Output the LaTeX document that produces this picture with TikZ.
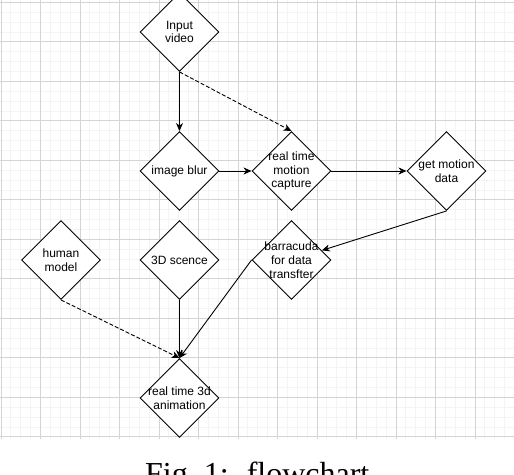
\documentclass[tikz,border=0pt]{standalone}
\usepackage{fontspec}
\setmainfont{Liberation Sans}
\newfontfamily\capfont{Liberation Serif}
\usetikzlibrary{shapes.geometric,arrows.meta}
\definecolor{minorgrid}{HTML}{F4F4F4}
\definecolor{majorgrid}{HTML}{D4D4D4}
\tikzset{
  dia/.style={diamond, draw=black, line width=0.9pt, fill=white, minimum width=79pt, minimum height=79pt, inner sep=0pt},
  lbl/.style={align=center, font=\fontsize{12}{13.8}\selectfont, inner sep=0pt},
  con/.style={line width=0.9pt, -{Stealth[length=8pt,width=7pt,inset=2.5pt]}},
  dcon/.style={con, dash pattern=on 4pt off 2pt},
}
\begin{document}
\begin{tikzpicture}[x=1pt,y=-1pt]
\useasboundingbox (0,0) rectangle (514,474);
\fill[white] (0,0) rectangle (514,474);
% grid
\foreach \i in {0,...,52} \draw[minorgrid, line width=0.8pt] ({1+9.875*\i},0) -- ({1+9.875*\i},439);
\foreach \i in {0,...,44} \draw[minorgrid, line width=0.8pt] (0,{2.3+9.875*\i}) -- (514,{2.3+9.875*\i});
\foreach \i in {0,...,13} \draw[majorgrid, line width=0.8pt] ({1+39.5*\i},0) -- ({1+39.5*\i},439);
\foreach \i in {0,...,11} \draw[majorgrid, line width=0.8pt] (0,{2.3+39.5*\i}) -- (514,{2.3+39.5*\i});
% nodes
\node[dia, label={[lbl]center:Input\\video}] (iv) at (179.5,32) {};
\node[dia, label={[lbl]center:image blur}] (ib) at (179.5,171) {};
\node[dia, label={[lbl]center:real time\\motion\\capture}] (rtmc) at (291.5,171) {};
\node[dia, label={[lbl]center:get motion\\data}] (gmd) at (446.5,171) {};
\node[dia, label={[lbl]center:human\\model}] (hm) at (61,260) {};
\node[dia, label={[lbl]center:3D scence}] (sc) at (179.5,260) {};
\node[dia, label={[lbl]center:barracuda\\for data\\transfter}] (bar) at (291.5,260) {};
\node[dia, label={[lbl]center:real time 3d\\animation}] (rt) at (179.5,398) {};
% connectors
\draw[con] (iv.south) -- (ib.north);
\draw[dcon] (iv.south) -- (rtmc.north);
\draw[con] (ib.east) -- (rtmc.west);
\draw[con] (rtmc.east) -- (gmd.west);
\draw[con] (gmd.south) -- (bar);
\draw[dcon] (hm.south) -- (rt.north);
\draw[con] (sc.south) -- (rt.north);
\draw[con] (bar.west) -- (rt.north);
% caption
\node[anchor=base west, inner sep=0pt, font=\capfont\fontsize{32}{38}\selectfont] (cap) at (145,484) {Fig.~1:\hspace{18pt}flowchart};
\end{tikzpicture}
\end{document}
